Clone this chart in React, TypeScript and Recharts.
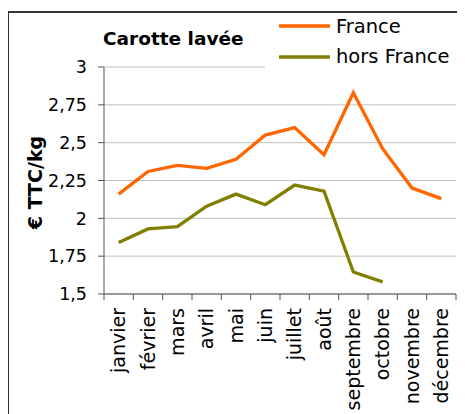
import React from 'react';
import { LineChart, Line, XAxis, YAxis, CartesianGrid, Legend } from 'recharts';

const months = ['janvier', 'février', 'mars', 'avril', 'mai', 'juin', 'juillet', 'août', 'septembre', 'octobre', 'novembre', 'décembre'];
const france = [2.16, 2.31, 2.35, 2.33, 2.39, 2.55, 2.6, 2.42, 2.83, 2.46, 2.2, 2.13];
const horsFrance = [1.84, 1.93, 1.945, 2.08, 2.16, 2.09, 2.22, 2.18, 1.645, 1.58, null, null];
const yTicks = [1.5, 1.75, 2, 2.25, 2.5, 2.75, 3];

const data = months.map((m, i) => ({ mois: m, France: france[i], 'hors France': horsFrance[i] }));

const FONT = '"DejaVu Sans", sans-serif';
const AXIS = '#555';
const PLOT_W = 352;

const MonthTick = (props: any) => {
  const { x, y, payload, index } = props;
  const bw = PLOT_W / months.length;
  const top = y - 14;
  return (
    <g>
      <line x1={x - bw / 2} x2={x - bw / 2} y1={top} y2={top + 6} stroke={AXIS} />
      {index === months.length - 1 && (
        <line x1={x + bw / 2} x2={x + bw / 2} y1={top} y2={top + 6} stroke={AXIS} />
      )}
      <text
        transform={`translate(${x},${y}) rotate(-90)`}
        textAnchor="end"
        dy="0.35em"
        fontSize={19}
        fontFamily={FONT}
        fill="#000"
      >
        {payload.value}
      </text>
    </g>
  );
};

const LegendBox = (props: any) => (
  <div style={{ background: '#fff', paddingLeft: 14, paddingBottom: 6, fontFamily: FONT, fontSize: 19.5 }}>
    {(props.payload || []).map((p: any) => (
      <div key={p.value} style={{ height: 30.6, display: 'flex', alignItems: 'center' }}>
        <svg width={51} height={6} style={{ marginRight: 6 }}>
          <line x1={1} x2={50} y1={3} y2={3} stroke={p.color} strokeWidth={3.5} strokeLinecap="round" />
        </svg>
        <span style={{ color: '#000' }}>{p.value}</span>
      </div>
    ))}
  </div>
);

export default function App() {
  return (
    <div style={{ position: 'relative', width: 457, height: 406, fontFamily: FONT }}>
      <LineChart width={457} height={406} data={data} margin={{ top: 59, right: 9, bottom: 0, left: 0 }}>
        <CartesianGrid vertical={false} stroke="#c0c0c0" />
        <XAxis
          dataKey="mois"
          scale="band"
          interval={0}
          height={120}
          tickSize={6}
          tickMargin={8}
          tickLine={false}
          axisLine={{ stroke: AXIS }}
          tick={<MonthTick />}
        />
        <YAxis
          domain={[1.5, 3]}
          ticks={yTicks}
          interval={0}
          width={96}
          tickSize={6}
          tickMargin={11}
          axisLine={{ stroke: AXIS }}
          tickLine={{ stroke: AXIS }}
          tickFormatter={(v: number) => String(v).replace('.', ',')}
          tick={{ fontSize: 17.5, fontFamily: FONT, fill: '#000' }}
          label={{
            content: (p: any) => {
              const vb = p.viewBox || { x: 0, y: 59, width: 96, height: 227 };
              const cx = vb.x + 27;
              const cy = vb.y + vb.height / 2 + 2;
              return (
                <text
                  x={cx}
                  y={cy}
                  transform={`rotate(-90, ${cx}, ${cy})`}
                  textAnchor="middle"
                  dominantBaseline="central"
                  fontSize={19}
                  fontWeight="bold"
                  fontFamily={FONT}
                  fill="#000"
                >
                  € TTC/kg
                </text>
              );
            },
          }}
        />
        <Legend
          layout="vertical"
          align="center"
          verticalAlign="middle"
          content={<LegendBox />}
          wrapperStyle={{ left: 257, top: 3, width: 200 }}
        />
        <Line type="linear" dataKey="France" stroke="#ff6600" strokeWidth={3.3} dot={false} isAnimationActive={false} />
        <Line type="linear" dataKey="hors France" stroke="#808000" strokeWidth={3.3} dot={false} isAnimationActive={false} />
      </LineChart>
      <div
        style={{
          position: 'absolute',
          left: 95,
          top: 22,
          fontSize: 18.5,
          fontWeight: 'bold',
          lineHeight: 1,
          whiteSpace: 'nowrap',
        }}
      >
        Carotte lavée
      </div>
      <div
        style={{
          position: 'absolute',
          left: -1,
          top: 3,
          width: 470,
          height: 420,
          borderTop: '2px solid #333',
          borderLeft: '2px solid #333',
          pointerEvents: 'none',
        }}
      />
    </div>
  );
}
